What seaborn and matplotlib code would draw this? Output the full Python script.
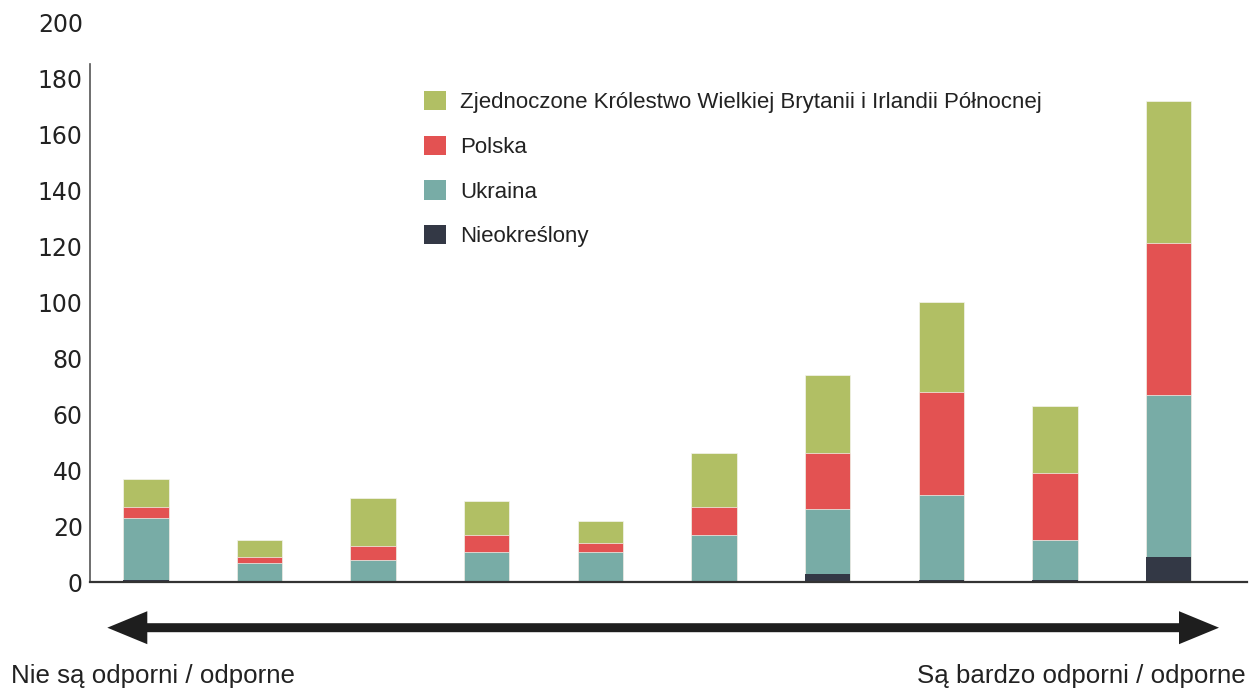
import matplotlib
matplotlib.use("Agg")
import matplotlib.pyplot as plt
from matplotlib.patches import Patch, FancyArrow
import seaborn as sns
import pandas as pd
import numpy as np

# ---- data ----
categories = ["1", "2", "3", "4", "5", "6", "7", "8", "9", "10"]
nieokreslony = [1, 0, 0, 0, 0, 0, 3, 1, 1, 9]
ukraina = [22, 7, 8, 11, 11, 17, 23, 30, 14, 58]
polska = [4, 2, 5, 6, 3, 10, 20, 37, 24, 54]
uk = [10, 6, 17, 12, 8, 19, 28, 32, 24, 51]

series_names = ["Zjednoczone Królestwo Wielkiej Brytanii i Irlandii Północnej",
                "Polska", "Ukraina", "Nieokreślony"]
yticks = [0, 20, 40, 60, 80, 100, 120, 140, 160, 180, 200]
left_label = "Nie są odporni / odporne"
right_label = "Są bardzo odporni / odporne"

colors = {"uk": "#b1bf64", "pl": "#e35252", "ua": "#78aca6", "nd": "#333845"}

sns.set_theme(style="white")
plt.rcParams["font.family"] = ["DejaVu Sans"]
narrow = ["Liberation Sans Narrow", "Liberation Sans", "DejaVu Sans"]

W, H = 1255, 690
fig = plt.figure(figsize=(W / 100, H / 100), dpi=100)
ax = fig.add_axes([89.7 / W, 107.7 / H, 1157.3 / W, 560 / H])

df = pd.DataFrame({"cat": categories, "nd": nieokreslony, "ua": ukraina,
                   "pl": polska, "uk": uk})
df["c_nd"] = df["nd"]
df["c_ua"] = df["c_nd"] + df["ua"]
df["c_pl"] = df["c_ua"] + df["pl"]
df["c_uk"] = df["c_pl"] + df["uk"]

for key in ["uk", "pl", "ua", "nd"]:
    sns.barplot(data=df, x="cat", y="c_" + key, order=categories, color=colors[key],
                saturation=1, width=0.4, errorbar=None, ax=ax,
                edgecolor="#f4f4ee", linewidth=0 if key == "nd" else 0.5)

ax.set_xlim(-0.494, 9.69)
ax.set_ylim(0, 200)
ax.set_xlabel("")
ax.set_ylabel("")
ax.set_xticks([])
ax.set_yticks(yticks)
ax.set_yticklabels([str(v) for v in yticks])
ax.tick_params(axis="y", length=0, pad=5, labelsize=17, labelcolor="#222222")
for s in ["top", "right"]:
    ax.spines[s].set_visible(False)
ax.spines["left"].set_bounds(0, 185)
ax.spines["left"].set_color("#555555")
ax.spines["left"].set_linewidth(1.2)
ax.spines["bottom"].set_color("#333333")
ax.spines["bottom"].set_linewidth(1.6)

handles = [Patch(facecolor=colors[k], edgecolor="none") for k in ["uk", "pl", "ua", "nd"]]
leg = ax.legend(handles, series_names, loc="upper left",
                bbox_to_anchor=(424 / W, 1 - 91 / H), bbox_transform=fig.transFigure,
                frameon=False, handlelength=0.97, handleheight=0.97,
                handletextpad=0.66, labelspacing=1.0, borderpad=0, borderaxespad=0,
                prop={"family": narrow, "size": 16})
for t in leg.get_texts():
    t.set_color("#222222")

# double arrow below the axis
ay = 1 - 627.7 / H
mid = 663 / W
for tip in (107.3, 1219):
    fig.patches.append(FancyArrow(mid, ay, tip / W - mid, 0, width=9 / H,
                                  head_width=33 / H, head_length=40 / W,
                                  length_includes_head=True, transform=fig.transFigure,
                                  color="#1e1e1e", linewidth=0))

fig.text(11 / W, 1 - 683 / H, left_label, ha="left", va="baseline",
         family=narrow, fontsize=18.6, color="#222222")
fig.text(1246 / W, 1 - 683 / H, right_label, ha="right", va="baseline",
         family=narrow, fontsize=18.6, color="#222222")

fig.savefig("out.png", dpi=100)
